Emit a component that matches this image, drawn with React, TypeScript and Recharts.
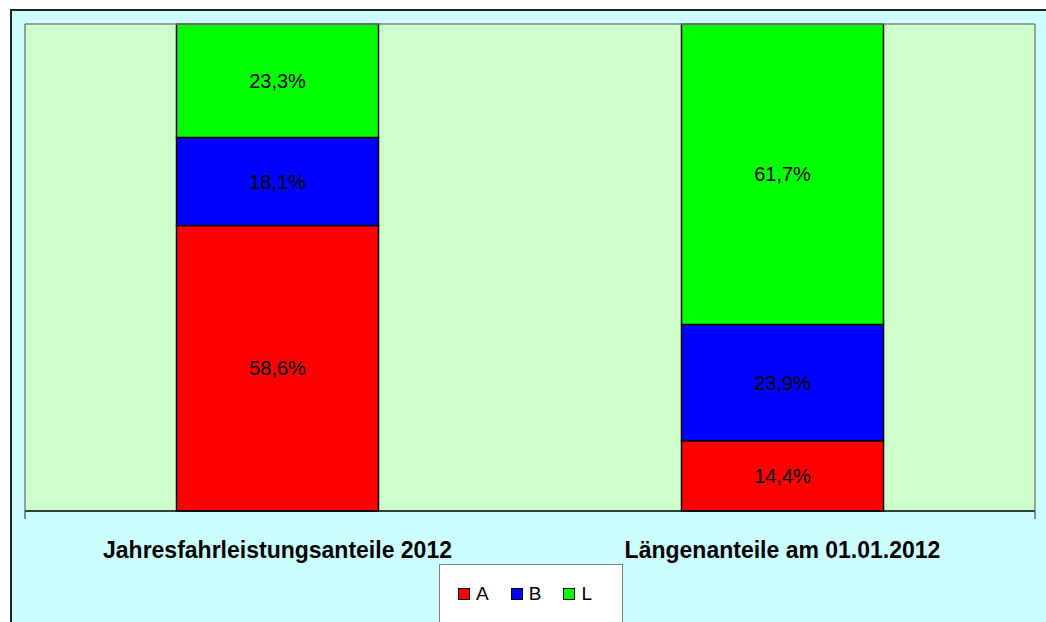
import React from 'react';
import { BarChart, Bar, XAxis, YAxis, CartesianGrid, LabelList, Legend } from 'recharts';

const categories = ['Jahresfahrleistungsanteile 2012', 'Längenanteile am 01.01.2012'];
const seriesA = [58.6, 14.4];
const seriesB = [18.1, 23.9];
const seriesL = [23.3, 61.7];
const seriesNames = ['A', 'B', 'L'];
const seriesColors = ['#FF0000', '#0000FF', '#00FF00'];
const boundaryTicks = [0, 1, 2];

const data = categories.map((name, i) => ({ name, A: seriesA[i], B: seriesB[i], L: seriesL[i] }));

const FONT = '"Liberation Sans", Arial, sans-serif';

const fmt = (v: any) => `${Number(v).toFixed(1).replace('.', ',')}%`;

const LegendContent = () => (
  <div
    style={{
      background: '#FFFFFF',
      border: '1px solid #808080',
      width: 184,
      height: 70,
      boxSizing: 'border-box',
      display: 'flex',
      alignItems: 'flex-start',
      paddingTop: 19,
      paddingLeft: 18,
      fontFamily: FONT,
      fontSize: 19,
      color: '#000',
    }}
  >
    {seriesNames.map((n, i) => (
      <div key={n} style={{ display: 'flex', alignItems: 'center', marginRight: 22 }}>
        <div style={{ width: 10, height: 10, background: seriesColors[i], border: '1px solid #000', marginRight: 6 }} />
        <span style={{ lineHeight: '20px' }}>{n}</span>
      </div>
    ))}
  </div>
);

const CatTick = (props: any) => {
  const { x, y, payload } = props;
  return (
    <text x={x} y={y} dy={38} textAnchor="middle" fontFamily={FONT} fontWeight="bold" fontSize={23} fill="#000">
      {payload.value}
    </text>
  );
};

const EmptyTick = () => <g />;

export default function App() {
  return (
    <div style={{ position: 'absolute', left: 0, top: 0, width: 1046, height: 622, background: '#FFFFFF', overflow: 'hidden' }}>
      <div
        style={{
          position: 'absolute',
          left: 10,
          top: 9,
          width: 1040,
          height: 620,
          background: '#CCFFFF',
          border: '2px solid #222222',
          boxSizing: 'border-box',
        }}
      />
      <div style={{ position: 'absolute', left: 0, top: 0 }}>
        <BarChart
          width={1046}
          height={622}
          data={data}
          margin={{ top: 23, right: 10, left: 24, bottom: 70 }}
          barCategoryGap="30%"
        >
          <CartesianGrid fill="#CCFFCC" horizontal={false} vertical={false} />
          <XAxis
            xAxisId="a_num"
            type="number"
            domain={[0, 2]}
            ticks={boundaryTicks}
            interval={0}
            height={1}
            tick={<EmptyTick />}
            tickSize={8}
            axisLine={{ stroke: '#000', strokeWidth: 1.5 }}
            tickLine={{ stroke: '#444', strokeWidth: 1.2 }}
          />
          <XAxis xAxisId="b_cat" dataKey="name" height={40} axisLine={false} tickLine={false} tick={<CatTick />} />
          <XAxis xAxisId="top" orientation="top" type="number" domain={[0, 1]} height={1} tick={false} tickLine={false} axisLine={{ stroke: '#808080', strokeWidth: 1.5 }} />
          <YAxis domain={[0, 100]} width={1} tick={false} tickLine={false} axisLine={{ stroke: '#808080', strokeWidth: 1.5 }} />
          <YAxis yAxisId="r" orientation="right" domain={[0, 100]} width={1} tick={false} tickLine={false} axisLine={{ stroke: '#808080', strokeWidth: 1.5 }} />
          <Legend
            layout="horizontal"
            verticalAlign="middle"
            align="center"
            content={<LegendContent />}
            wrapperStyle={{ position: 'absolute', left: 439, top: 564, width: 184 }}
          />
          {seriesNames.map((n, i) => (
            <Bar key={n} dataKey={n} stackId="s" xAxisId="b_cat" fill={seriesColors[i]} stroke="#000" strokeWidth={1.5} isAnimationActive={false}>
              <LabelList dataKey={n} position="center" formatter={fmt} fill="#000" fontFamily={FONT} fontSize={20} />
            </Bar>
          ))}
        </BarChart>
      </div>
    </div>
  );
}
